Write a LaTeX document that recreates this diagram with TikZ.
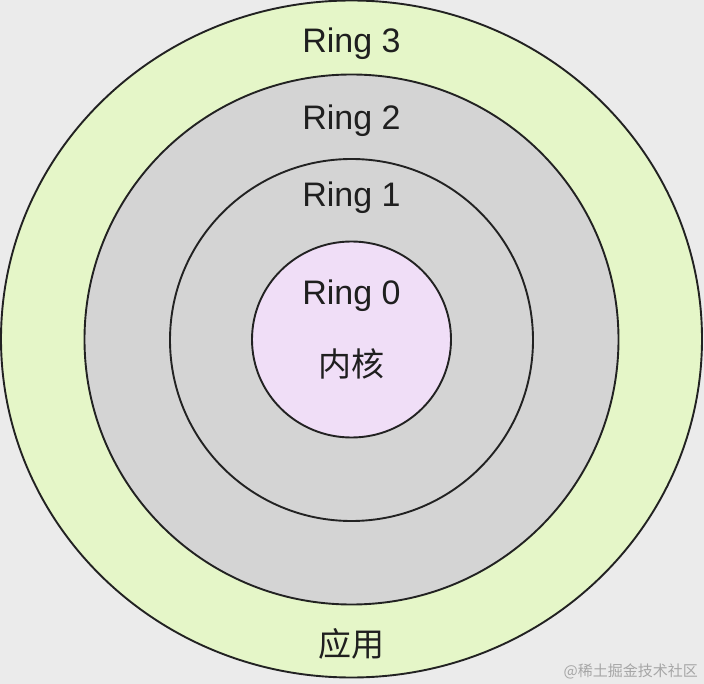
\documentclass[tikz,border=0pt]{standalone}
\usepackage{fontspec}
\setmainfont{Liberation Sans}
\newfontfamily\cjk{Noto Sans CJK SC}
\usetikzlibrary{shapes.geometric}
\definecolor{bgc}{HTML}{EBEBEB}
\definecolor{greenf}{HTML}{E5F6C8}
\definecolor{grayf}{HTML}{D4D4D4}
\definecolor{pinkf}{HTML}{F0DEF7}
\definecolor{edgec}{HTML}{222222}
\definecolor{wmc}{HTML}{A6A6A6}
\tikzset{
  ringshape/.style={ellipse, draw=edgec, line width=1.9pt, inner sep=0pt},
  lbl/.style={font=\fontsize{34}{40}\selectfont, text=black!88, inner sep=0pt, anchor=base},
  cjklbl/.style={font=\fontsize{33}{40}\selectfont\cjk, text=black!88, inner sep=0pt},
  wm/.style={font=\fontsize{15}{18}\selectfont\cjk, text=wmc, inner sep=0pt, anchor=east}
}
\begin{document}
\begin{tikzpicture}[x=1pt,y=-1pt]
\fill[bgc] (0,0) rectangle (704,684);
\useasboundingbox (0,0) rectangle (704,684);
\node[ringshape, fill=greenf, minimum width=701pt, minimum height=677pt] (r3) at (351.5,339) {};
\node[ringshape, fill=grayf, minimum width=534pt, minimum height=530pt] (r2) at (351.5,339.5) {};
\node[ringshape, fill=grayf, minimum width=363pt, minimum height=362pt] (r1) at (351.5,340) {};
\node[ringshape, fill=pinkf, minimum width=199pt, minimum height=196pt] (r0) at (351.5,339.5) {};
\node[lbl] (t3) at (351.5,53) {Ring 3};
\node[lbl] (t2) at (351.5,130) {Ring 2};
\node[lbl] (t1) at (351.5,207) {Ring 1};
\node[lbl] (t0) at (351.5,305) {Ring 0};
\node[cjklbl] (kern) at (351.5,364) {内核};
\node[cjklbl] (app) at (351.5,644) {应用};
\node[wm] (mark) at (698,671) {@稀土掘金技术社区};
\end{tikzpicture}
\end{document}
